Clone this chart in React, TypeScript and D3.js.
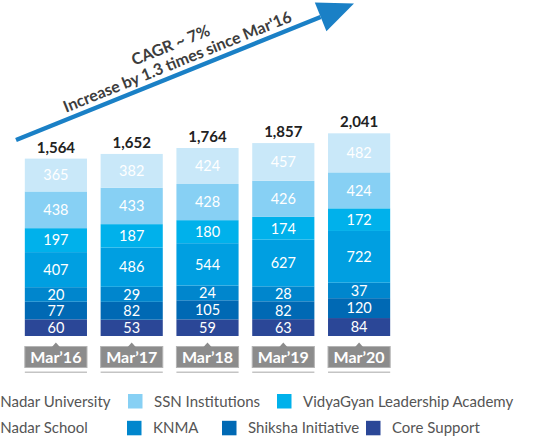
import React from 'react';
import * as d3 from 'd3';

// years and series, bottom of the stack first
const years = ['Mar’16', 'Mar’17', 'Mar’18', 'Mar’19', 'Mar’20'];
const seriesNames = [
  'Core Support',
  'Shiksha Initiative',
  'KNMA',
  'Shiv Nadar School',
  'VidyaGyan Leadership Academy',
  'SSN Institutions',
  'Shiv Nadar University',
];
const coreSupport = [60, 53, 59, 63, 84];
const shiksha = [77, 82, 105, 82, 120];
const knma = [20, 29, 24, 28, 37];
const snSchool = [407, 486, 544, 627, 722];
const vidyaGyan = [197, 187, 180, 174, 172];
const ssn = [438, 433, 428, 426, 424];
const snUniversity = [365, 382, 424, 457, 482];
const totals = [1564, 1652, 1764, 1857, 2041];

const seriesValues = [coreSupport, shiksha, knma, snSchool, vidyaGyan, ssn, snUniversity];
const colors = ['#2b4797', '#0069b4', '#0086cd', '#009fe1', '#00b1eb', '#87d0f4', '#c9e8f9'];

// legend rows as in the picture
const legendRows = [
  ['Shiv Nadar University', 'SSN Institutions', 'VidyaGyan Leadership Academy'],
  ['Shiv Nadar School', 'KNMA', 'Shiksha Initiative', 'Core Support'],
];
const legendX = [
  [-31, 154, 303],
  [-31, 153, 248, 392],
];

const W = 550;
const H = 438;
const baseY = 336;
const font = 'Lato, "Open Sans", sans-serif';

export default function App() {
  const x = d3.scaleBand<string>().domain(years).range([18, 397]).paddingInner(0.18).paddingOuter(0.09);
  // segments keep a minimum height so each label fits
  const segH = d3.scaleLinear().domain([0, 800]).range([13.5, 13.5 + 0.053 * 800]);

  const bars = years.map((yr, i) => {
    let y = baseY;
    const segs = seriesValues.map((vals, s) => {
      const h = segH(vals[i]);
      y -= h;
      return { s, v: vals[i], y, h };
    });
    return { yr, i, segs, top: y };
  });

  const fmt = d3.format(',');

  // arrow geometry
  const tip: [number, number] = [354, 3.5];
  const start: [number, number] = [16, 140];
  const ang = Math.atan2(tip[1] - start[1], tip[0] - start[0]);
  const ux = Math.cos(ang), uy = Math.sin(ang);
  const headLen = 36, headHalf = 15.5;
  const bx = tip[0] - headLen * ux, by = tip[1] - headLen * uy;
  const head = [
    tip,
    [bx - headHalf * uy, by + headHalf * ux],
    [bx + headHalf * uy, by - headHalf * ux],
  ];
  const deg = (ang * 180) / Math.PI;

  return (
    <svg width={W} height={H} style={{ position: 'absolute', left: 0, top: 0 }} fontFamily={font}>
      <rect width={W} height={H} fill="#fff" />
      <line x1={start[0]} y1={start[1]} x2={bx} y2={by} stroke="#1a80c6" strokeWidth={4.5} />
      <polygon points={head.map((p) => p.join(',')).join(' ')} fill="#1a80c6" />
      <g transform={`translate(174,53.5) rotate(${deg})`} fill="#3d3d3d" fontWeight="bold" fontSize={16} textAnchor="middle">
        <text y={-3.5}>CAGR ~ 7%</text>
        <text y={14.5}>Increase by 1.3 times since Mar'16</text>
      </g>

      {bars.map((b) => {
        const bx0 = x(b.yr)!;
        const bw = x.bandwidth();
        const cx = bx0 + bw / 2;
        return (
          <g key={b.yr}>
            {b.segs.map((sg) => (
              <g key={sg.s}>
                <rect x={bx0} y={sg.y} width={bw} height={sg.h} fill={colors[sg.s]} />
                <text x={cx} y={sg.y + sg.h / 2 + 5.3} fill="#fff" fontSize={14.5} textAnchor="middle">
                  {sg.v}
                </text>
              </g>
            ))}
            <text x={cx} y={b.top - 6} fill="#222" fontSize={15} fontWeight="bold" textAnchor="middle">
              {fmt(totals[b.i])}
            </text>
            <rect x={bx0} y={346.5} width={bw} height={21} fill="#8c8c8c" stroke="#b4b4b4" strokeWidth={1} />
            <polygon points={`${cx - 4},347 ${cx},342.5 ${cx + 4},347`} fill="#8c8c8c" />
            <text x={cx} y={363} fill="#fff" fontSize={16} fontWeight="bold" textAnchor="middle">
              {b.yr}
            </text>
            <rect x={bx0} y={371.5} width={bw} height={1.5} fill="#c4c4c4" />
          </g>
        );
      })}

      {legendRows.map((row, r) =>
        row.map((name, k) => {
          const tx = legendX[r][k];
          const ty = r === 0 ? 406.5 : 433.3;
          return (
            <g key={name}>
              <rect x={tx - 26} y={ty - 12.5} width={14.5} height={14.5} fill={colors[seriesNames.indexOf(name)]} />
              <text x={tx} y={ty} fill="#555" fontSize={15}>
                {name}
              </text>
            </g>
          );
        })
      )}
    </svg>
  );
}
